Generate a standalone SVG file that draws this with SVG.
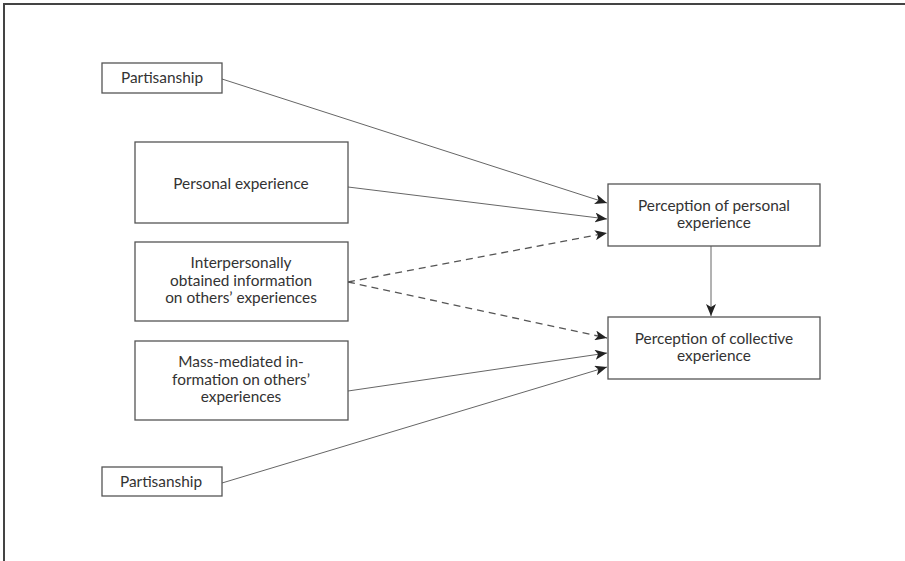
<svg xmlns="http://www.w3.org/2000/svg" width="905" height="561" viewBox="0 0 905 561">
  <style>
    .box { fill: #fff; stroke: #555; stroke-width: 1.3; }
    .lbl { font-family: Lato, "Open Sans", sans-serif; font-size: 15.4px; fill: #333; text-anchor: middle; }
    .edge { fill: none; stroke: #666; stroke-width: 1; marker-end: url(#arrow); }
    .dash { stroke-dasharray: 7 5; stroke: #555; stroke-width: 1.3; }
  </style>
  <defs>
    <marker id="arrow" viewBox="0 0 12 10" refX="12" refY="5" markerWidth="12" markerHeight="10" markerUnits="userSpaceOnUse" orient="auto">
      <path d="M0,0 L12,5 L0,10 L3,5 Z" fill="#222"/>
    </marker>
  </defs>
  <rect width="905" height="561" fill="#fff"/>
  <!-- page frame: top and left rules only -->
  <g id="frame" stroke="#444" stroke-width="2">
    <line x1="3" y1="4" x2="905" y2="4"/>
    <line x1="4" y1="3" x2="4" y2="561"/>
  </g>

  <g id="connectors">
    <line class="edge" x1="222" y1="79" x2="607" y2="203"/>
    <line class="edge" x1="348" y1="187" x2="607" y2="219"/>
    <line class="edge dash" x1="348" y1="282" x2="607" y2="233"/>
    <line class="edge dash" x1="348" y1="282" x2="607" y2="338"/>
    <line class="edge" x1="348" y1="391" x2="607" y2="353"/>
    <line class="edge" x1="222" y1="483" x2="607" y2="367"/>
    <line class="edge" x1="711" y1="246" x2="711" y2="316"/>
  </g>

  <g id="partisanship-top">
    <rect class="box" x="102" y="63" width="120" height="30"/>
    <text class="lbl" x="162" y="83">Partisanship</text>
  </g>
  <g id="personal-experience">
    <rect class="box" x="135" y="142" width="213" height="81"/>
    <text class="lbl" x="241" y="189">Personal experience</text>
  </g>
  <g id="interpersonal-info">
    <rect class="box" x="135" y="242" width="213" height="79"/>
    <text class="lbl" x="241" y="268">Interpersonally</text>
    <text class="lbl" x="241" y="285.5">obtained information</text>
    <text class="lbl" x="241" y="303">on others’ experiences</text>
  </g>
  <g id="mass-mediated-info">
    <rect class="box" x="135" y="341" width="213" height="79"/>
    <text class="lbl" x="241" y="367">Mass-mediated in-</text>
    <text class="lbl" x="241" y="384.5">formation on others’</text>
    <text class="lbl" x="241" y="402">experiences</text>
  </g>
  <g id="partisanship-bottom">
    <rect class="box" x="102" y="467" width="120" height="29"/>
    <text class="lbl" x="161" y="487">Partisanship</text>
  </g>
  <g id="perception-personal">
    <rect class="box" x="608" y="184" width="212" height="62"/>
    <text class="lbl" x="714" y="211">Perception of personal</text>
    <text class="lbl" x="714" y="228">experience</text>
  </g>
  <g id="perception-collective">
    <rect class="box" x="608" y="317" width="212" height="62"/>
    <text class="lbl" x="714" y="344">Perception of collective</text>
    <text class="lbl" x="714" y="361">experience</text>
  </g>
</svg>
